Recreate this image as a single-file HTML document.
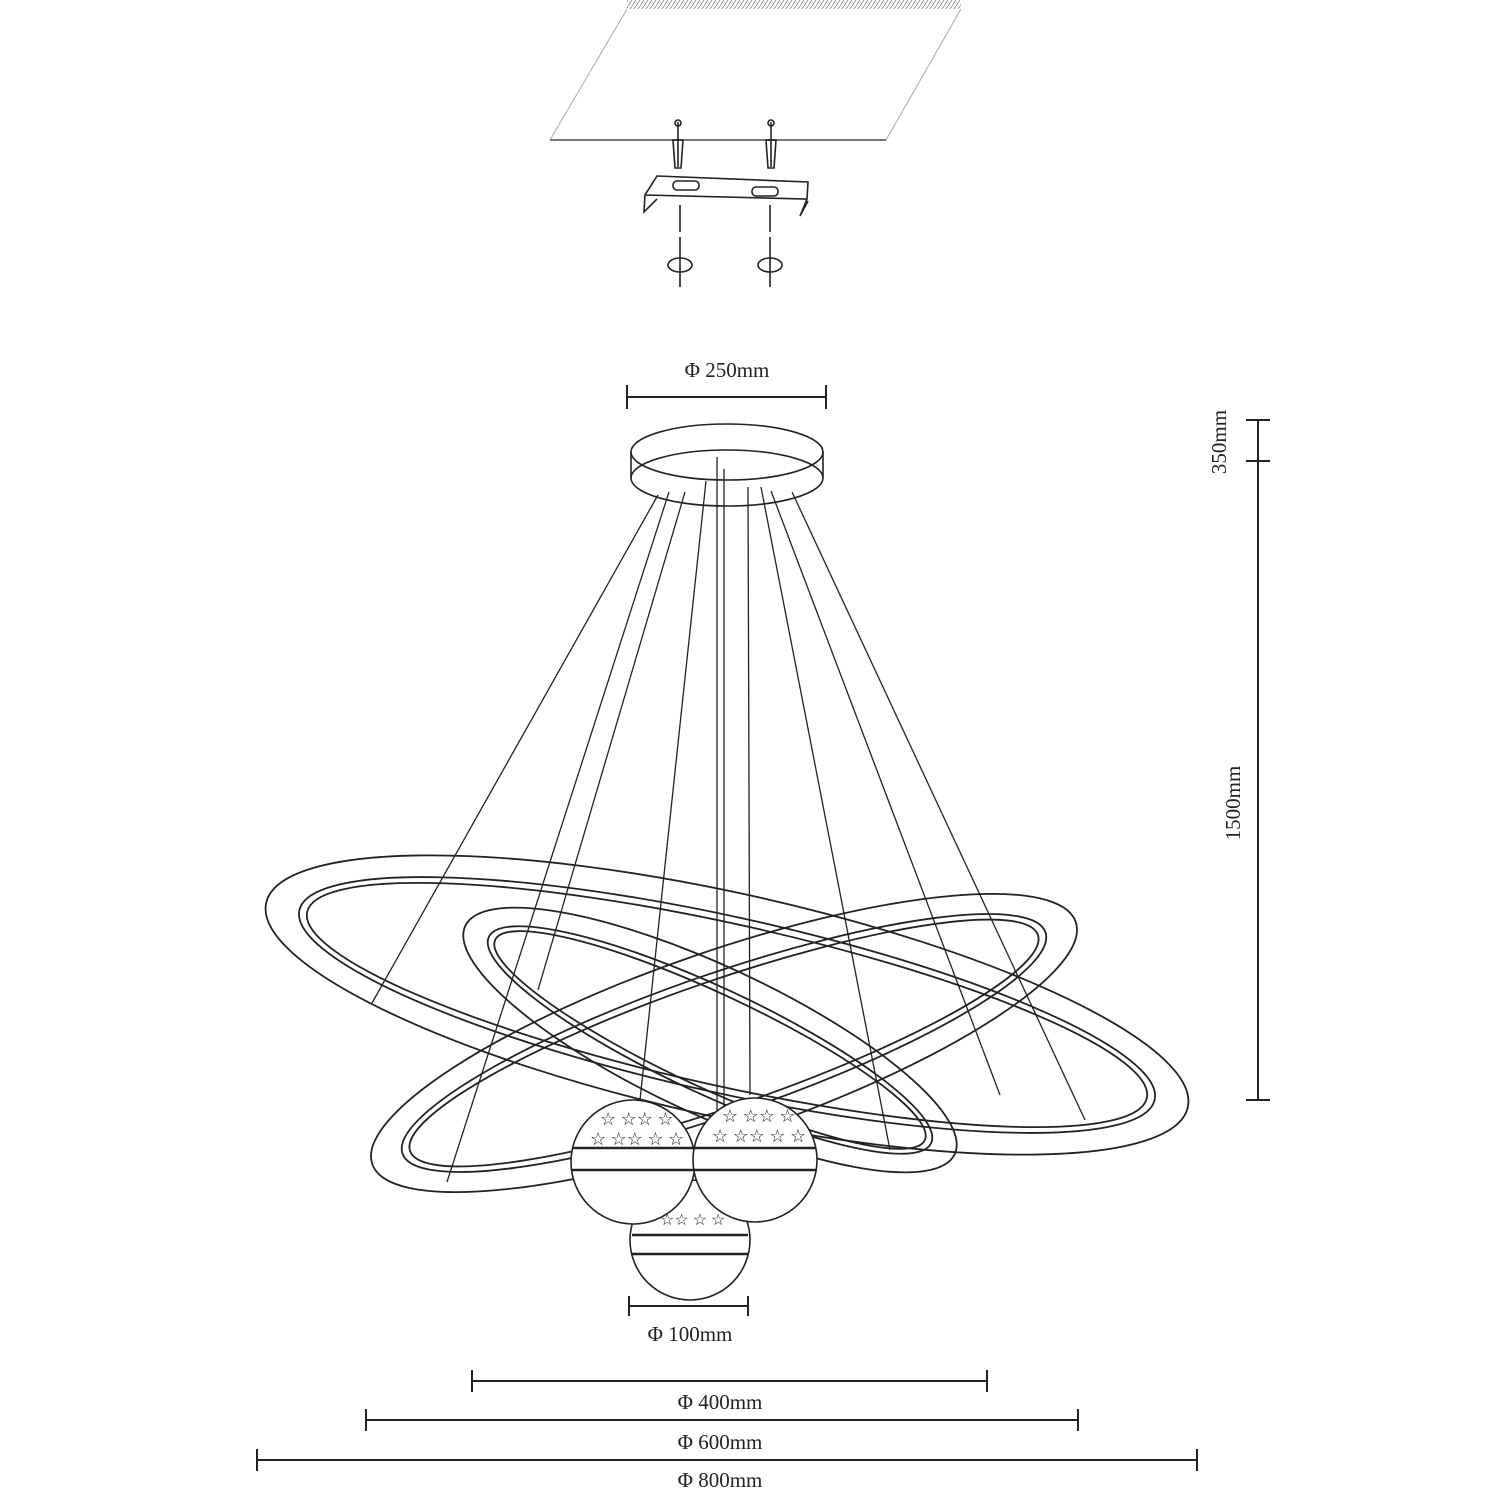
<!DOCTYPE html>
<html><head><meta charset="utf-8"><style>
html,body{margin:0;padding:0;background:#fff;}
svg{display:block;}
text{font-family:"Liberation Serif",serif;font-size:21px;fill:#222;}
</style></head><body>
<svg width="1500" height="1500" viewBox="0 0 1500 1500" xmlns="http://www.w3.org/2000/svg">
<defs>
<pattern id="h" width="4" height="6" patternUnits="userSpaceOnUse"><path d="M0 6 L4 0" stroke="#999" stroke-width="1"/></pattern>
</defs>
<g fill="none" stroke="#222" stroke-width="1.6">
<rect x="627" y="0" width="334" height="9" fill="url(#h)" stroke="none"/>
<path d="M627 9 L550 140 M961 9 L886 140" stroke="#aaa" stroke-width="1"/>
<path d="M550 140 L886 140" stroke="#777" stroke-width="2"/>
<path d="M678 122 v45 M771 122 v45"/>
<circle cx="678" cy="123" r="3"/><circle cx="771" cy="123" r="3"/>
<path d="M673 140 h10 l-2 28 h-6 z M766 140 h10 l-2 28 h-6 z"/>
<path d="M657 176 L808 182 L807 199 L645 195 Z M645 195 L644 212 L657 199 M807 199 L800 216 L808 201"/>
<rect x="673" y="181" width="26" height="9" rx="4"/><rect x="752" y="187" width="26" height="9" rx="4"/>
<path d="M680 205 v27 M770 205 v27 M680 237 v50 M770 237 v50"/>
<ellipse cx="680" cy="265" rx="12" ry="7"/><ellipse cx="770" cy="265" rx="12" ry="7"/>
<ellipse cx="727" cy="452" rx="96" ry="28"/>
<ellipse cx="727" cy="478" rx="96" ry="28"/>
<path d="M631 452 v26 M823 452 v26"/>
<g stroke-width="1.3">
<path d="M658 495 L372 1003"/>
<path d="M669 492 L447 1182"/>
<path d="M685 492 L538 990"/>
<path d="M706 481 L640 1100"/>
<path d="M717 457 L717 1195"/>
<path d="M724 469 L724 1150"/>
<path d="M748 487 L750 1095"/>
<path d="M761 487 L890 1150"/>
<path d="M771 491 L1000 1095"/>
<path d="M792 492 L1085 1120"/>
</g>
<g fill="none" stroke-width="1.8">
<g transform="translate(727 1005) rotate(12.5)">
<ellipse rx="472" ry="112"/><ellipse rx="438" ry="88"/><ellipse rx="430" ry="81"/>
</g>
<g transform="translate(724 1043) rotate(-19)">
<ellipse rx="372" ry="92"/><ellipse rx="340" ry="70"/><ellipse rx="332" ry="63"/>
</g>
<g transform="translate(710 1040) rotate(25)">
<ellipse rx="270" ry="74"/><ellipse rx="244" ry="53"/><ellipse rx="237" ry="47"/>
</g>
</g>
<g fill="#fff" stroke-width="1.6">
<circle cx="690" cy="1240" r="60"/>
<path d="M632 1235 h116 M632 1254 h116" stroke-width="2.5"/>
<circle cx="633" cy="1162" r="62"/>
<path d="M572 1148 h122 M572 1170 h122" stroke-width="2.5"/>
<circle cx="755" cy="1160" r="62"/>
<path d="M694 1148 h122 M694 1170 h122" stroke-width="2.5"/>
</g>
</g>
<g>
<text x="590" y="1145" style="font-size:18px">☆ ☆☆ ☆ ☆</text>
<text x="600" y="1125" style="font-size:18px">☆ ☆☆ ☆</text>
<text x="712" y="1142" style="font-size:18px">☆ ☆☆ ☆ ☆</text>
<text x="722" y="1122" style="font-size:18px">☆ ☆☆ ☆</text>
<text x="660" y="1225" style="font-size:16px">☆☆ ☆ ☆</text>
</g>
<g fill="none" stroke="#222" stroke-width="2">
<path d="M627 397 H826 M627 385 v24 M826 385 v24"/>
<path d="M1258 420 V1100 M1246 420 h24 M1246 461 h24 M1246 1100 h24"/>
<path d="M629 1306 H748 M629 1296 v20 M748 1296 v20"/>
<path d="M472 1381 H987 M472 1370 v22 M987 1370 v22"/>
<path d="M366 1420 H1078 M366 1409 v22 M1078 1409 v22"/>
<path d="M257 1460 H1197 M257 1449 v22 M1197 1449 v22"/>
</g>
<text x="727" y="377" text-anchor="middle">Φ 250mm</text>
<text x="690" y="1341" text-anchor="middle">Φ 100mm</text>
<text x="720" y="1409" text-anchor="middle">Φ 400mm</text>
<text x="720" y="1449" text-anchor="middle">Φ 600mm</text>
<text x="720" y="1487" text-anchor="middle">Φ 800mm</text>
<text transform="translate(1226 442) rotate(-90)" text-anchor="middle">350mm</text>
<text transform="translate(1240 803) rotate(-90)" text-anchor="middle">1500mm</text>
</svg>
</body></html>
